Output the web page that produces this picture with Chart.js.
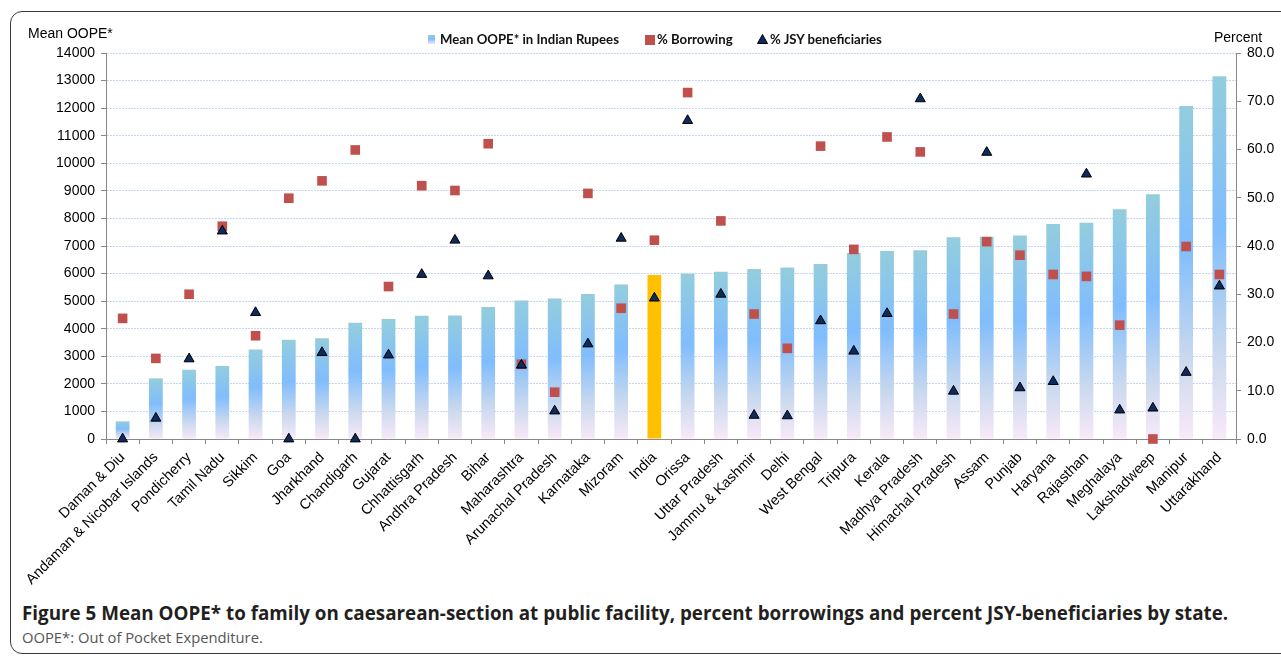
<!DOCTYPE html>
<html>
<head>
<meta charset="utf-8">
<script src="https://cdn.jsdelivr.net/npm/chart.js@4.4.1/dist/chart.umd.min.js"></script>
<style>
  body { margin: 0; width: 1281px; height: 656px; overflow: hidden; background: #fff; position: relative; font-family: "Liberation Sans", Arial, sans-serif; }
  #frame { position: absolute; left: 10px; top: 11px; width: 1400px; height: 641px; border: 1.5px solid #3a3a3a; border-radius: 12px; }
  #wrap { position: absolute; left: 0; top: 0; width: 1281px; height: 600px; }
  .axt { position: absolute; font-size: 14px; color: #000; line-height: 16px; }
  .leg { position: absolute; top: 31px; font-family: Lato, "Noto Sans", sans-serif; font-weight: bold; font-size: 13.2px; color: #111; line-height: 16px; }
  .cap1 { position: absolute; left: 22px; top: 600px; font-family: "Open Sans", sans-serif; font-weight: bold; font-size: 17px; color: #231f20; white-space: nowrap; }
  .cap2 { position: absolute; left: 22px; top: 627px; font-family: "Open Sans", sans-serif; font-size: 15px; color: #555; white-space: nowrap; }
</style>
</head>
<body>
<div id="frame"></div>
<div id="wrap"><canvas id="c" width="1281" height="600"></canvas></div>
<div class="axt" style="left:28px; top:25px;">Mean OOPE*</div>
<div class="axt" style="left:1214px; top:29px;">Percent</div>
<div class="leg" style="left:428px; top:35px; width:7px; height:9px; background:linear-gradient(#93cddd,#80bdfd 45%,#f3e6f6);"></div>
<div class="leg" style="left:440px;">Mean OOPE* in Indian Rupees</div>
<div class="leg" style="left:645px; top:35px; width:10px; height:10px; background:#c0504d;"></div>
<div class="leg" style="left:657px;">% Borrowing</div>
<svg class="leg" style="left:757px; top:34px;" width="11" height="10"><polygon points="5.5,0.5 10.5,9.5 0.5,9.5" fill="#0f2a5c" stroke="#000" stroke-width="1"/></svg>
<div class="leg" style="left:770px;">% JSY beneficiaries</div>
<div class="cap1" id="cap1">Figure 5 Mean OOPE* to family on caesarean-section at public facility, percent borrowings and percent JSY-beneficiaries by state.</div>
<div class="cap2" id="cap2">OOPE*: Out of Pocket Expenditure.</div>
<script>
const states = ["Daman & Diu", "Andaman & Nicobar Islands", "Pondicherry", "Tamil Nadu", "Sikkim", "Goa",
  "Jharkhand", "Chandigarh", "Gujarat", "Chhattisgarh", "Andhra Pradesh", "Bihar", "Maharashtra",
  "Arunachal Pradesh", "Karnataka", "Mizoram", "India", "Orissa", "Uttar Pradesh", "Jammu & Kashmir",
  "Delhi", "West Bengal", "Tripura", "Kerala", "Madhya Pradesh", "Himachal Pradesh", "Assam", "Punjab",
  "Haryana", "Rajasthan", "Meghalaya", "Lakshadweep", "Manipur", "Uttarakhand"];

// mean out of pocket expenditure, rupees
const meanOOPE = [640, 2200, 2510, 2650, 3250, 3600, 3650, 4220, 4350, 4470, 4480, 4790, 5020,
  5100, 5260, 5600, 5950, 5990, 6070, 6170, 6220, 6350, 6750, 6820, 6850, 7320, 7340, 7380,
  7800, 7840, 8330, 8880, 12080, 13160];

// percent
const borrowing = [25.0, 16.7, 30.0, 44.1, 21.4, 49.9, 53.5, 59.9, 31.6, 52.5, 51.5, 61.2, 15.5,
  9.7, 50.9, 27.1, 41.2, 71.8, 45.2, 25.9, 18.8, 60.7, 39.3, 62.6, 59.5, 25.9, 40.9, 38.1,
  34.1, 33.7, 23.6, 0.0, 39.9, 34.1];
const jsy = [0.0, 4.3, 16.6, 43.1, 26.2, 0.0, 17.9, 0.0, 17.4, 34.1, 41.2, 33.8, 15.3,
  5.8, 19.7, 41.6, 29.2, 66.0, 30.0, 4.9, 4.8, 24.5, 18.2, 26.0, 70.5, 9.9, 59.4, 10.6,
  11.9, 54.9, 6.0, 6.4, 13.8, 31.7];

const highlight = "India";

// fit caption lines to the width they take in the figure
function fitWidth(id, w) {
  const el = document.getElementById(id);
  const size = parseFloat(getComputedStyle(el).fontSize);
  el.style.fontSize = (size * w / el.getBoundingClientRect().width) + 'px';
}
fitWidth('cap1', 1207);
fitWidth('cap2', 241);

function barFill(c) {
  if (c.type !== 'data') return '#80bdfd';
  if (states[c.dataIndex] === highlight) return '#ffc000';
  const y = c.chart.scales.y;
  if (!y || !c.chart.chartArea) return '#80bdfd';
  const top = y.getPixelForValue(meanOOPE[c.dataIndex]);
  const bottom = y.getPixelForValue(0);
  if (!isFinite(top) || !isFinite(bottom) || top === bottom) return '#80bdfd';
  const g = c.chart.ctx.createLinearGradient(0, top, 0, bottom);
  g.addColorStop(0, '#93cddd');
  g.addColorStop(0.42, '#80bdfd');
  g.addColorStop(0.75, '#c8d8ee');
  g.addColorStop(1, '#f8e9f8');
  return g;
}

const font = { family: "'Liberation Sans', Arial, sans-serif" };

new Chart(document.getElementById('c'), {
  data: {
    labels: states,
    datasets: [
      {
        type: 'line', label: '% JSY beneficiaries', data: jsy, yAxisID: 'y2', order: 1,
        showLine: false, pointStyle: 'triangle', pointRadius: 5.8, pointHoverRadius: 5.8,
        backgroundColor: '#0f2a5c', borderColor: '#000', borderWidth: 1, clip: false
      },
      {
        type: 'line', label: '% Borrowing', data: borrowing, yAxisID: 'y2', order: 2,
        showLine: false, pointStyle: 'rect', pointRadius: 6.8, pointHoverRadius: 6.8,
        backgroundColor: '#c0504d', borderColor: '#c0504d', borderWidth: 0, clip: false
      },
      {
        type: 'bar', label: 'Mean OOPE* in Indian Rupees', data: meanOOPE, yAxisID: 'y', order: 3,
        backgroundColor: barFill, borderWidth: 0, barPercentage: 0.9, categoryPercentage: 0.46
      }
    ]
  },
  options: {
    responsive: false,
    devicePixelRatio: 1,
    animation: false,
    layout: { padding: { top: 53, left: 0, right: 0, bottom: 0 } },
    plugins: { legend: { display: false }, tooltip: { enabled: false } },
    events: [],
    scales: {
      x: {
        grid: { offset: true, drawOnChartArea: false, tickLength: 5, tickColor: '#888' },
        border: { color: '#888' },
        ticks: { minRotation: 45, maxRotation: 45, autoSkip: false, color: '#000', padding: 5,
          font: { ...font, size: 14.5 } },
        afterFit: s => { s.height = 161; }
      },
      y: {
        position: 'left', min: 0, max: 14000,
        ticks: { stepSize: 1000, color: '#000', padding: 6, font: { ...font, size: 14 },
          callback: v => String(v) },
        grid: { color: '#c4d5ee', tickColor: '#888', tickLength: 5 },
        border: { color: '#888', dash: [2, 1] },
        afterFit: s => { s.width = 106; }
      },
      y2: {
        position: 'right', min: 0, max: 80,
        ticks: { stepSize: 10, color: '#000', padding: 6, font: { ...font, size: 14 },
          callback: v => v.toFixed(1) },
        grid: { drawOnChartArea: false, tickColor: '#888', tickLength: 5 },
        border: { color: '#888' },
        afterFit: s => { s.width = 45; }
      }
    }
  }
});
</script>
</body>
</html>
